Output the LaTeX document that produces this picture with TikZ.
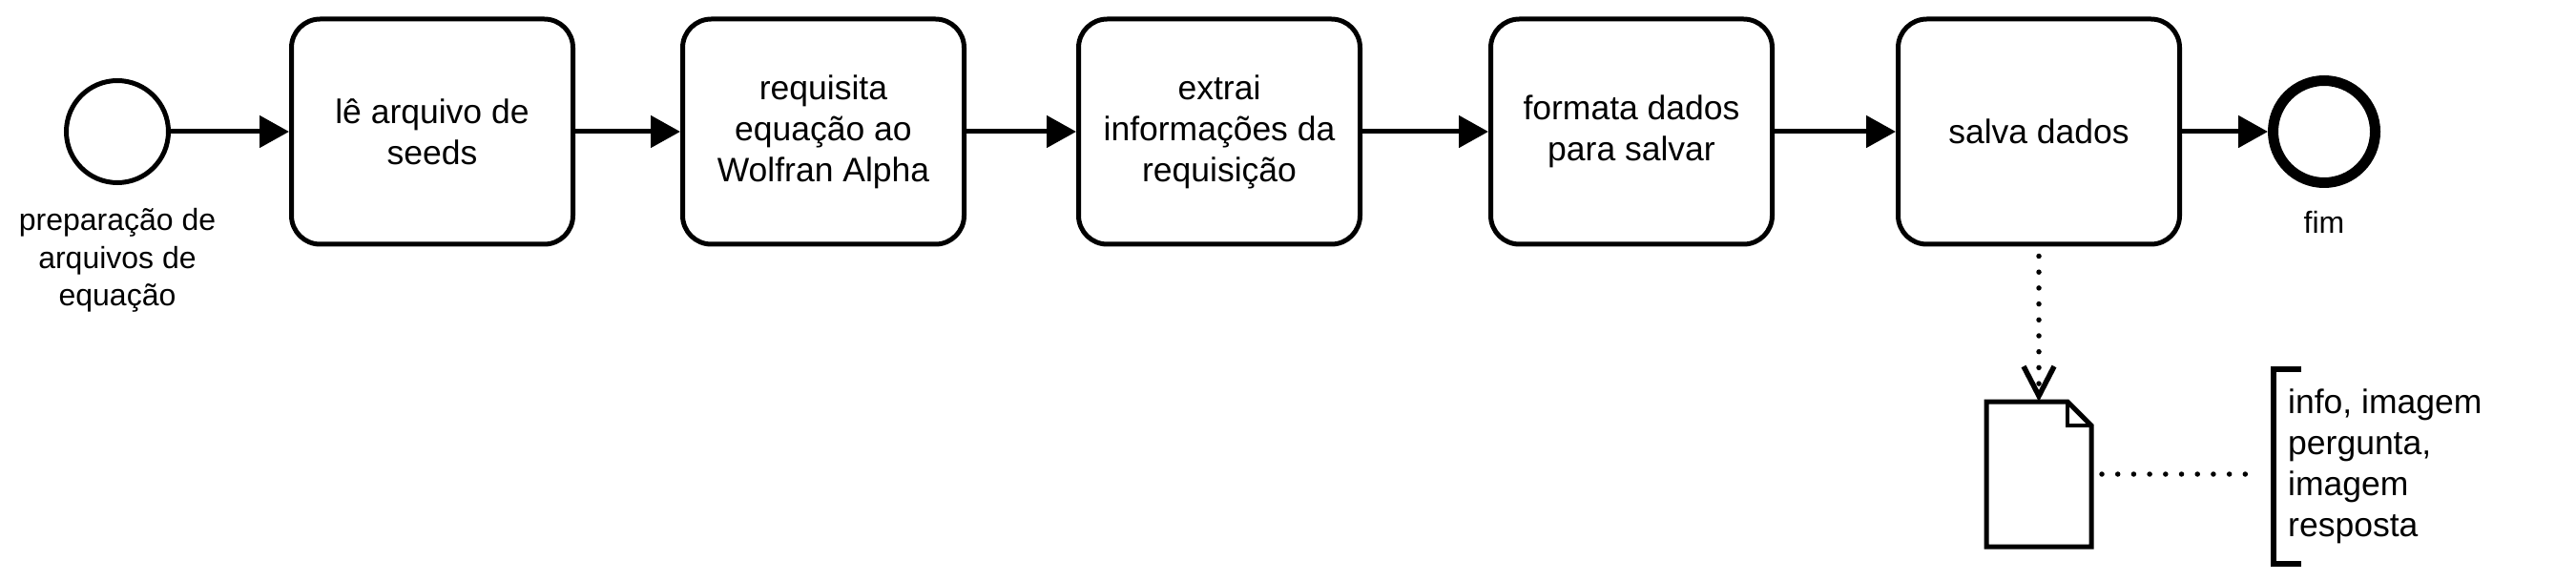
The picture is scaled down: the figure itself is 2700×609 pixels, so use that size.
\documentclass[tikz,border=0pt]{standalone}
\usepackage{fontspec}
\setmainfont{Liberation Sans}
\usetikzlibrary{arrows.meta,calc}
\begin{document}
\begin{tikzpicture}[x=1pt,y=-1pt,
	tarefa/.style={draw, line width=5pt, rounded corners=30pt, minimum width=295pt, minimum height=236pt, align=center, font=\fontsize{35.5}{43}\selectfont},
	evento/.style={draw, circle, line width=5pt, minimum size=107pt, inner sep=0pt},
	rotulo/.style={align=center, font=\fontsize{32}{39.5}\selectfont},
	fluxo/.style={line width=5pt, -{Triangle[length=31pt,width=33pt]}},
	assoc/.style={line width=5.5pt, line cap=round, dash pattern=on 0pt off 16.7pt}]
	    \useasboundingbox (0,0) rectangle (2700,609);
	    
	    % eventos e tarefas
	    \node [evento] (inicio) at (123,138) {};
	    \node [rotulo] (inicio-rot) at (123,273) {preparação de\\arquivos de\\equação};
		\node [tarefa] (le) at (453,138) {lê arquivo de\\seeds};
	    \node [tarefa] (req) at (863,138) {requisita\\equação ao\\Wolfran Alpha};
		\node [tarefa] (ext) at (1278,138) {extrai\\informações da\\requisição};
	    \node [tarefa] (fmt) at (1710,138) {formata dados\\para salvar};
	    \node [tarefa] (salva) at (2137,138) {salva dados};
	    \node [evento, line width=11pt] (fim) at (2436,138) {};
	    \node [rotulo] (fim-rot) at (2436,233) {fim};
	    
	    \draw [fluxo] (inicio) -- (le);
	    \draw [fluxo] (le) -- (req);
	    \draw [fluxo] (req) -- (ext);
	    \draw [fluxo] (ext) -- (fmt);
	    \draw [fluxo] (fmt) -- (salva);
	    \draw [fluxo] (salva) -- (fim);
	    
	    % objeto de dados
	    \node [minimum width=105pt, minimum height=147pt, inner sep=0pt, outer sep=2.5pt] (doc) at (2137,497) {};
	    \draw [line width=5pt] (doc.south west) -- (doc.north west) -- ($(doc.north east)+(-25,0)$) -- ($(doc.north east)+(0,25)$) -- (doc.south east) -- cycle;
	    \draw [line width=4pt] ($(doc.north east)+(-25,0)$) |- ($(doc.north east)+(0,25)$);
	    \draw [assoc, -{Straight Barb[length=31pt,width=32pt]}, shorten <=10pt] (salva) -- (doc);
	    
	    % anotacao
	    \node [anchor=west, inner xsep=15pt, inner ysep=0pt, minimum height=204pt, align=left, font=\fontsize{35.5}{43}\selectfont] (nota) at (2383,489) {info, imagem\\pergunta,\\imagem\\resposta};
	    \draw [line width=5.5pt] ($(nota.north west)+(29,0)$) -- (nota.north west) -- (nota.south west) -- +(29,0);
	    \draw [assoc, shorten <=11pt, shorten >=14pt] (doc.east) -- (doc.east -| nota.west);
	\end{tikzpicture}
\end{document}
